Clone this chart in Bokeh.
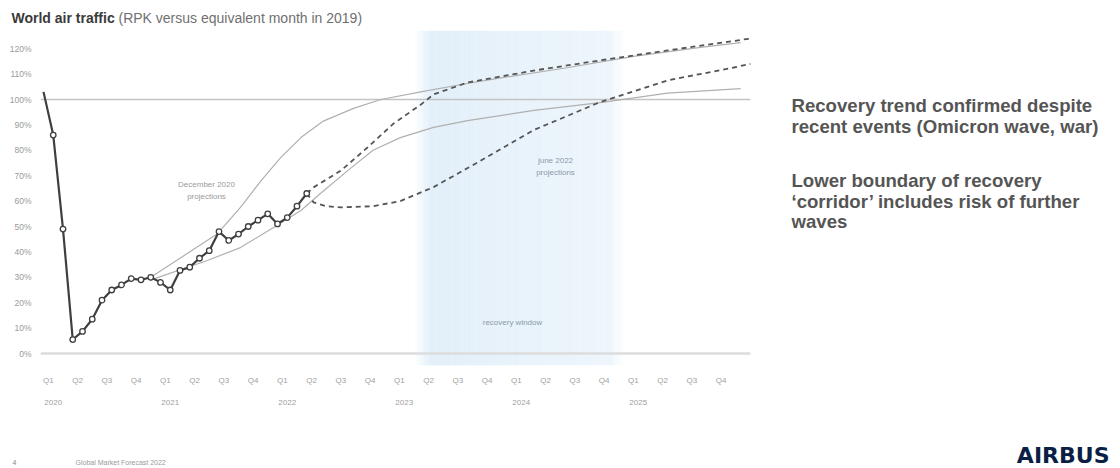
from bokeh.plotting import figure
from bokeh.models import FixedTicker, LinearAxis, Range1d, ColumnDataSource, PrintfTickFormatter
from bokeh.layouts import column, row
from bokeh.core.properties import value
from bokeh.embed import file_html
from bokeh.resources import INLINE

# x = months since January 2020 (0 = Jan 2020)
actual_month = list(range(28))
actual_pct = [103, 86, 49, 5.5, 8.7, 13.5, 21, 25, 27, 29.5, 29, 30,
              28, 25, 32.7, 34, 37.5, 40.5, 48, 44.5, 47, 50, 52.5, 55,
              51, 53.5, 58, 63]

dec_high_month = [11, 14, 17.8, 20.2, 22.3, 24.3, 26.4, 28.7, 31.8, 34.6, 38.7, 43, 46.9, 53.7, 60.5, 67.4, 71.5]
dec_high_pct = [30, 37.5, 47, 57.5, 68, 77, 85, 91.5, 96.5, 100, 103, 106, 108.5, 112.5, 117, 120.5, 122.4]

dec_low_month = [11, 16.8, 20.2, 23.6, 26.4, 28.4, 31.2, 33.8, 36.6, 40, 43.5, 50.3, 57.1, 64, 71.5]
dec_low_pct = [29, 36.6, 41.7, 49.6, 56.3, 63, 72, 80, 85, 89, 91.7, 95.7, 98.8, 102.5, 104.3]

jun_high_month = [27, 27.7, 30.5, 33.2, 35.9, 38.7, 40, 43.5, 50.3, 57.1, 64, 72.5]
jun_high_pct = [63, 65.4, 72, 81, 90.5, 98, 102, 106.7, 111.4, 115.4, 119.3, 124]

jun_low_month = [27, 27.7, 29, 30.5, 33.8, 36.6, 40, 43.5, 50.3, 57.1, 64, 70.8, 72.5]
jun_low_pct = [63, 59.5, 58, 57.5, 58, 60, 65.5, 73, 88, 99, 107.5, 112.6, 114]

recovery_window = [39.5, 58.2]          # months
reference_level = 100
chart_span = [-0.3, 72.5]

y_ticks = list(range(0, 130, 10))
quarter_labels = ["Q1", "Q2", "Q3", "Q4"] * 6
years = ["2020", "2021", "2022", "2023", "2024", "2025"]

title_bold = "World air traffic"
title_rest = "(RPK versus equivalent month in 2019)"
side_lines = ["Recovery trend confirmed despite",
              "recent events (Omicron wave, war)",
              "Lower boundary of recovery",
              "\u2018corridor\u2019 includes risk of further",
              "waves"]

FONT = "Liberation Sans"
W, H = 1120, 468
TOP_H, FOOT_H = 30, 30
CH_W = 760
CH_H = H - TOP_H - FOOT_H        # 408

# pixel mapping of the chart (global page pixels)
PX0, KX = 43.0, 9.75             # month 0 at x=43, 9.75 px / month
PY0, KY = 353.0, 2.54            # 0% at y=353, 2.54 px / %
def X(px):
    return (px - PX0) / KX
def Y(py):
    return (PY0 - py) / KY

FL, FR, FT, FB = 40, CH_W, TOP_H, 365      # frame edges in page pixels
BOTTOM_BORDER = CH_H - (FB - TOP_H)

p = figure(width=CH_W, height=CH_H, output_backend="svg", toolbar_location=None,
           x_range=Range1d(X(FL), X(FR)), y_range=Range1d(Y(FB), Y(FT)),
           min_border_left=FL, min_border_right=0,
           min_border_top=0, min_border_bottom=BOTTOM_BORDER)
p.outline_line_color = None
p.grid.visible = False
p.background_fill_color = "white"
p.border_fill_color = "white"

# recovery window band: soft gradient
w0, w1 = recovery_window
top, bot = Y(FT), Y(FB)
n = 24
lefts, rights, cols = [], [], []
def mix(c1, c2, t):
    a = [int(c1[i:i + 2], 16) for i in (1, 3, 5)]
    b = [int(c2[i:i + 2], 16) for i in (1, 3, 5)]
    return "#%02x%02x%02x" % tuple(round(a[k] + (b[k] - a[k]) * t) for k in range(3))
for i in range(n):
    t = i / (n - 1)
    lefts.append(w0 + (w1 - w0) * i / n)
    rights.append(w0 + (w1 - w0) * (i + 1) / n + 0.02)
    cols.append(mix("#e3eff9", "#eef6fc", t))
edge = 1.4
for i in range(6):
    t = (i + 1) / 7
    lefts += [w0 - edge * (i + 1) / 6, w1 + edge * i / 6]
    rights += [w0 - edge * i / 6, w1 + edge * (i + 1) / 6]
    cols += [mix("#e3eff9", "#ffffff", t), mix("#eef6fc", "#ffffff", t)]
p.quad(left=lefts, right=rights, bottom=bot, top=top, fill_color=cols, line_color=None)

# reference lines
p.line(chart_span, [0, 0], line_color="#dcdcdc", line_width=2.5)
p.line(chart_span, [reference_level] * 2, line_color="#c4c4c4", line_width=1.5)

# December 2020 projections
p.line(dec_high_month, dec_high_pct, line_color="#b0b0b0", line_width=1.2)
p.line(dec_low_month, dec_low_pct, line_color="#b0b0b0", line_width=1.2)

# June 2022 projections
p.line(jun_high_month, jun_high_pct, line_color="#555555", line_width=1.8, line_dash="5 4")
p.line(jun_low_month, jun_low_pct, line_color="#555555", line_width=1.8, line_dash="5 4")

# actual traffic
src = ColumnDataSource(dict(x=actual_month, y=actual_pct))
p.line("x", "y", source=src, line_color="#3f3f3f", line_width=2.2)
p.scatter(actual_month[1:], actual_pct[1:], size=5.5, fill_color="white",
          line_color="#3f3f3f", line_width=1.3)

# in-chart annotations
def ctext(px, py, txt, color, size="8px"):
    p.text(x=[X(px)], y=[Y(py)], text=[txt], text_font=value(FONT), text_font_size=size,
           text_color=color, text_align="center", text_baseline="middle")
ctext(206, 184, "December 2020", "#9a9a9a")
ctext(206, 196, "projections", "#9a9a9a")
ctext(555, 160, "june 2022", "#8a9aa8")
ctext(555, 172, "projections", "#8a9aa8")
ctext(512, 322, "recovery window", "#8a9aa8")

# axes
p.yaxis.ticker = FixedTicker(ticks=y_ticks)
p.yaxis.formatter = PrintfTickFormatter(format="%d%%")
p.yaxis.axis_line_color = None
p.yaxis.major_tick_line_color = None
p.yaxis.minor_tick_line_color = None
p.yaxis.major_label_text_font_size = "8.5px"
p.yaxis.major_label_text_color = "#9a9a9a"
p.yaxis.major_label_text_font = FONT
p.yaxis.major_label_standoff = 3

q_ticks = [3 * i + 0.5 for i in range(len(quarter_labels))]
p.xaxis.ticker = FixedTicker(ticks=q_ticks)
p.xaxis.major_label_overrides = {t: lab for t, lab in zip(q_ticks, quarter_labels)}
p.xaxis.axis_line_color = None
p.xaxis.major_tick_line_color = None
p.xaxis.minor_tick_line_color = None
p.xaxis.major_label_text_font_size = "8px"
p.xaxis.major_label_text_color = "#a0a0a0"
p.xaxis.major_label_text_font = FONT
p.xaxis.major_label_standoff = 4

yr_ticks = [12 * i + 1 for i in range(len(years))]
yax = LinearAxis(ticker=FixedTicker(ticks=yr_ticks),
                 major_label_overrides={t: s for t, s in zip(yr_ticks, years)},
                 axis_line_color=None, major_tick_line_color=None, minor_tick_line_color=None,
                 major_label_text_font_size="8px", major_label_text_color="#a0a0a0",
                 major_label_text_font=FONT, major_label_standoff=6)
p.add_layout(yax, "below")


def pane(w, h, bottom_border=0):
    fh = h - bottom_border
    f = figure(width=w, height=h, output_backend="svg", toolbar_location=None,
               x_range=Range1d(0, w), y_range=Range1d(fh, 0),
               x_axis_type=None, y_axis_type=None, min_border=0,
               min_border_bottom=bottom_border)
    f.outline_line_color = None
    f.grid.visible = False
    f.background_fill_color = "white"
    f.border_fill_color = "white"
    return f

def ptext(f, x, y, txt, size, color, bold=False, align="left", font=FONT):
    f.text(x=[x], y=[y], text=[txt], text_font=value(font), text_font_size=size,
           text_color=color, text_font_style="bold" if bold else "normal",
           text_align=align, text_baseline="middle")

# title pane (page y 0..30)
tp = pane(W, TOP_H)
ptext(tp, 11, 17, title_bold, "14px", "#3a3a3a", bold=True)
ptext(tp, 118, 17, title_rest, "14px", "#707070")

# side comment pane (page x 760..1120, y 30..438); frame aligned with chart frame
sp = pane(W - CH_W, CH_H, BOTTOM_BORDER)
side_y = [105, 126, 180, 201, 221]
for txt, yy in zip(side_lines, side_y):
    ptext(sp, 791 - CH_W, yy - TOP_H, txt, "18.6px", "#555555", bold=True)

# footer pane (page y 438..468)
fp = pane(W, FOOT_H)
ptext(fp, 12, 462 - (H - FOOT_H), "4", "7px", "#888888")
ptext(fp, 75, 462 - (H - FOOT_H), "Global Market Forecast 2022", "7px", "#999999")
ptext(fp, 1109, 455 - (H - FOOT_H), "AIRBUS", "22px", "#0b1f45", bold=True, align="right",
      font="DejaVu Sans")

layout = column(tp, row(p, sp, spacing=0), fp, spacing=0)
open("out.html", "w").write(file_html(layout, INLINE))
